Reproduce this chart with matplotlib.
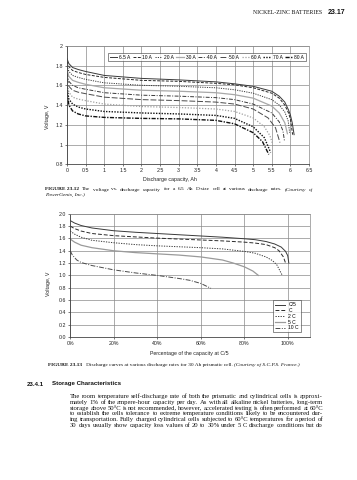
import matplotlib
matplotlib.use("Agg")
import matplotlib.pyplot as plt

W, H = 357, 480

# ---------------- data: figure 23.12 ----------------
top_labels = ["6.5 A", "10 A", "20 A", "30 A", "40 A", "50 A", "60 A", "70 A", "80 A"]
top_x = [
    [0, 0.05, 0.15, 0.3, 0.5, 1.0, 2.0, 3.0, 4.0, 4.5, 5.0, 5.5, 5.7, 5.85, 5.95, 6.0, 6.05, 6.1],
    [0, 0.05, 0.15, 0.3, 0.5, 1.0, 2.0, 3.0, 4.0, 4.5, 5.0, 5.5, 5.7, 5.85, 5.95, 6.0, 6.06],
    [0, 0.05, 0.15, 0.3, 0.5, 1.0, 2.0, 3.0, 4.0, 4.5, 5.0, 5.5, 5.7, 5.85, 5.94, 5.98],
    [0, 0.05, 0.15, 0.3, 0.5, 1.0, 2.0, 3.0, 4.0, 4.5, 5.0, 5.5, 5.7, 5.85, 5.92],
    [0, 0.05, 0.15, 0.3, 0.5, 1.0, 2.0, 3.0, 4.0, 4.5, 5.0, 5.5, 5.7, 5.8, 5.84],
    [0, 0.05, 0.15, 0.3, 0.5, 1.0, 2.0, 3.0, 4.0, 4.5, 5.0, 5.4, 5.6, 5.72],
    [0, 0.05, 0.15, 0.3, 0.5, 1.0, 2.0, 3.0, 4.0, 4.5, 5.0, 5.3, 5.45, 5.52],
    [0, 0.05, 0.15, 0.3, 0.5, 1.0, 2.0, 3.0, 4.0, 4.5, 5.0, 5.3, 5.47],
    [0, 0.05, 0.15, 0.3, 0.5, 1.0, 2.0, 3.0, 4.0, 4.5, 5.0, 5.25, 5.42],
]
top_v = [
    [1.87, 1.82, 1.78, 1.76, 1.74, 1.70, 1.67, 1.655, 1.635, 1.615, 1.59, 1.54, 1.49, 1.43, 1.35, 1.30, 1.22, 1.10],
    [1.84, 1.79, 1.75, 1.73, 1.71, 1.68, 1.65, 1.64, 1.62, 1.605, 1.575, 1.52, 1.47, 1.40, 1.32, 1.26, 1.10],
    [1.80, 1.74, 1.70, 1.68, 1.66, 1.625, 1.60, 1.59, 1.575, 1.555, 1.52, 1.455, 1.40, 1.33, 1.24, 1.12],
    [1.76, 1.69, 1.65, 1.63, 1.61, 1.575, 1.55, 1.54, 1.525, 1.505, 1.47, 1.39, 1.32, 1.22, 1.11],
    [1.72, 1.64, 1.60, 1.575, 1.56, 1.525, 1.50, 1.49, 1.475, 1.455, 1.41, 1.32, 1.23, 1.14, 1.04],
    [1.68, 1.59, 1.55, 1.53, 1.515, 1.48, 1.455, 1.445, 1.43, 1.41, 1.36, 1.27, 1.17, 1.02],
    [1.63, 1.53, 1.48, 1.46, 1.445, 1.41, 1.385, 1.375, 1.36, 1.335, 1.27, 1.18, 1.09, 1.01],
    [1.58, 1.46, 1.41, 1.38, 1.36, 1.335, 1.32, 1.31, 1.295, 1.265, 1.18, 1.07, 0.92],
    [1.53, 1.40, 1.34, 1.31, 1.29, 1.275, 1.265, 1.26, 1.245, 1.21, 1.12, 1.03, 0.90],
]
top_xticks = [0, 0.5, 1, 1.5, 2, 2.5, 3, 3.5, 4, 4.5, 5, 5.5, 6, 6.5]
top_xticklabels = ["0", "0.5", "1", "1.5", "2", "2.5", "3", "3.5", "4", "4.5", "5", "5.5", "6", "6.5"]
top_yticks = [0.8, 1.0, 1.2, 1.4, 1.6, 1.8, 2.0]
top_yticklabels = ["0.8", "1", "1.2", "1.4", "1.6", "1.8", "2"]

# ---------------- data: figure 23.13 ----------------
bot_labels = ["C/5", "C", "2 C", "5 C", "10 C"]
bot_x = [
    [0, 2, 5, 10, 20, 30, 40, 50, 60, 70, 80, 85, 90, 94, 97, 99, 100, 100.5],
    [0, 2, 5, 10, 20, 30, 40, 50, 60, 70, 80, 85, 90, 94, 96, 98, 99],
    [0, 2, 5, 10, 20, 30, 40, 50, 60, 70, 80, 85, 90, 93, 95, 97.5],
    [0, 2, 5, 10, 20, 30, 40, 50, 60, 70, 75, 80, 84, 86.5],
    [0, 1, 3, 5, 10, 20, 30, 40, 50, 55, 60, 64.7],
]
bot_v = [
    [1.89, 1.85, 1.81, 1.77, 1.725, 1.70, 1.68, 1.66, 1.64, 1.62, 1.595, 1.58, 1.55, 1.51, 1.46, 1.39, 1.32, 1.20],
    [1.80, 1.76, 1.72, 1.68, 1.645, 1.625, 1.605, 1.59, 1.575, 1.56, 1.54, 1.525, 1.50, 1.45, 1.40, 1.30, 1.20],
    [1.72, 1.67, 1.62, 1.57, 1.53, 1.50, 1.48, 1.465, 1.45, 1.43, 1.39, 1.36, 1.30, 1.24, 1.17, 1.00],
    [1.59, 1.54, 1.49, 1.45, 1.40, 1.37, 1.35, 1.33, 1.30, 1.25, 1.20, 1.14, 1.07, 1.00],
    [1.40, 1.33, 1.25, 1.21, 1.16, 1.09, 1.04, 1.00, 0.95, 0.92, 0.87, 0.79],
]
bot_xticks = [0, 20, 40, 60, 80, 100]
bot_xticklabels = ["0%", "20%", "40%", "60%", "80%", "100%"]
bot_yticks = [0.0, 0.2, 0.4, 0.6, 0.8, 1.0, 1.2, 1.4, 1.6, 1.8, 2.0]
bot_yticklabels = ["0.0", "0.2", "0.4", "0.6", "0.8", "1.0", "1.2", "1.4", "1.6", "1.8", "2.0"]

# ---------------- page text ----------------
header_title = "NICKEL-ZINC BATTERIES"
header_page = "23.17"
cap1_line1 = [("FIGURE 23.12", "b")] + [(w, "r") for w in
              "The voltage vs. discharge capacity for a 6.5 Ah D-size cell at various discharge rates.".split()] + \
             [("(Courtesy", "i"), ("of", "i")]
cap1_line2 = "PowerGenix, Inc.)"
cap2 = [("FIGURE 23.13", "b"),
        ("   Discharge curves at various discharge rates for 30 Ah prismatic cell. ", "r"),
        ("(Courtesy of S.C.P.S. France.)", "i")]
heading_num = "23.4.1"
heading_txt = "Storage Characteristics"
para_lines = [
    "The room temperature self-discharge rate of both the prismatic and cylindrical cells is approxi-",
    "mately 1% of the ampere-hour capacity per day. As with all alkaline nickel batteries, long-term",
    "storage above 50°C is not recommended, however, accelerated testing is often performed at 60°C",
    "to establish the cells tolerance to extreme temperature conditions likely to be encountered dur-",
    "ing transportation. Fully charged cylindrical cells subjected to 60°C temperatures for a period of",
    "30 days usually show capacity loss values of 20 to 30% under 5 C discharge conditions but do",
]

SANS = "Liberation Sans"
SERIF = "Liberation Serif"

fig = plt.figure(figsize=(W / 100, H / 100), dpi=100)
fig.patch.set_facecolor("white")


def fx(px):
    return px / W


def fy(py):
    return 1 - py / H


def style_axes(ax):
    ax.grid(True, color="#8a8a8a", lw=0.5)
    ax.set_axisbelow(True)
    for s in ["top", "right"]:
        ax.spines[s].set_color("#8a8a8a")
        ax.spines[s].set_linewidth(0.5)
    for s in ["left", "bottom"]:
        ax.spines[s].set_color("#444444")
        ax.spines[s].set_linewidth(0.6)
    ax.tick_params(direction="out", length=1.5, width=0.5, color="#444444",
                   labelsize=3.8, pad=1.5, labelcolor="#222222")
    for lab in ax.get_xticklabels() + ax.get_yticklabels():
        lab.set_family(SANS)


# ---------- top chart ----------
ax1 = fig.add_axes([fx(67), fy(164.3), (309 - 67) / W, (164.3 - 45.8) / H])
top_styles = [
    dict(color="#3a3a3a", ls="-", lw=0.7),
    dict(color="#2a2a2a", ls=(0, (3, 1.5)), lw=0.7),
    dict(color="#3a3a3a", ls=(0, (1.2, 1.2)), lw=0.7),
    dict(color="#a8a8a8", ls="-", lw=0.9),
    dict(color="#3a3a3a", ls=(0, (4, 1.5, 1, 1.5)), lw=0.7),
    dict(color="#4a4a4a", ls=(0, (6, 2)), lw=0.7),
    dict(color="#a0a0a0", ls=(0, (1, 1.3)), lw=0.9),
    dict(color="#111111", ls=(0, (1, 1)), lw=1.0),
    dict(color="#111111", ls=(0, (3, 1, 1, 1)), lw=1.0),
]
for xs, vs, lab, st in zip(top_x, top_v, top_labels, top_styles):
    ax1.plot(xs, vs, label=lab, **st)
ax1.set_xlim(0, 6.5)
ax1.set_ylim(0.8, 2.0)
ax1.set_xticks(top_xticks)
ax1.set_xticklabels(top_xticklabels)
ax1.set_yticks(top_yticks)
ax1.set_yticklabels(top_yticklabels)
style_axes(ax1)
leg1 = ax1.legend(ncol=9, loc="upper right", bbox_to_anchor=(0.9876, 0.94),
                  handlelength=1.6, handletextpad=0.3, columnspacing=0.55,
                  borderpad=0.35, frameon=True, fancybox=False, borderaxespad=0,
                  prop={"family": SANS, "size": 3.5})
leg1.get_frame().set_edgecolor("#333333")
leg1.get_frame().set_linewidth(0.5)
fig.text(fx(47.5), fy(117), "Voltage, V", rotation=90, ha="center", va="center",
         fontsize=3.8, family=SANS, color="#222222")
fig.text(fx(170), fy(179), "Discharge capacity, Ah", ha="center", va="center",
         fontsize=3.8, family=SANS, color="#222222")

# ---------- bottom chart ----------
ax2 = fig.add_axes([fx(70.2), fy(337.0), (309.5 - 70.2) / W, (337.0 - 213.8) / H])
bot_styles = [
    dict(color="#3a3a3a", ls="-", lw=0.7),
    dict(color="#2a2a2a", ls=(0, (4, 2)), lw=0.7),
    dict(color="#3a3a3a", ls=(0, (1.3, 1.3)), lw=0.7),
    dict(color="#9a9a9a", ls="-", lw=0.9),
    dict(color="#4a4a4a", ls=(0, (5, 1.5, 1, 1.5)), lw=0.7),
]
for xs, vs, lab, st in zip(bot_x, bot_v, bot_labels, bot_styles):
    ax2.plot(xs, vs, label=lab, **st)
ax2.set_xlim(0, 110)
ax2.set_ylim(0, 2.0)
ax2.set_xticks(bot_xticks)
ax2.set_xticklabels(bot_xticklabels)
ax2.set_yticks(bot_yticks)
ax2.set_yticklabels(bot_yticklabels)
style_axes(ax2)
leg2 = ax2.legend(loc="lower right", bbox_to_anchor=(0.9645, 0.038), ncol=1,
                  handlelength=2.0, handletextpad=0.6, labelspacing=0.15, borderpad=0.4,
                  frameon=True, fancybox=False, borderaxespad=0,
                  prop={"family": SANS, "size": 3.6})
leg2.get_frame().set_edgecolor("#333333")
leg2.get_frame().set_linewidth(0.5)
fig.text(fx(48.3), fy(284), "Voltage, V", rotation=90, ha="center", va="center",
         fontsize=3.8, family=SANS, color="#222222")
fig.text(fx(189.5), fy(354), "Percentage of the capacity at C/5", ha="center", va="center",
         fontsize=3.8, family=SANS, color="#222222")

# ---------- page text helpers ----------
renderer = fig.canvas.get_renderer()
STY = {"r": dict(), "b": dict(weight="bold"), "i": dict(style="italic")}


def measure(pieces, size, family=SERIF):
    total = 0.0
    for txt, s in pieces:
        t = fig.text(0, 0, txt, fontsize=size, family=family, **STY[s])
        total += t.get_window_extent(renderer).width
        t.remove()
    return total


def fit(pieces, target, family=SERIF):
    return 10.0 * target / measure(pieces, 10.0, family)


def rich_line(x0, y, pieces, size, family=SERIF):
    cur = x0
    for txt, s in pieces:
        t = fig.text(fx(cur), fy(y), txt, fontsize=size, family=family,
                     ha="left", va="center", color="#111111", **STY[s])
        cur += t.get_window_extent(renderer).width
    return cur


def justify(x0, x1, y, words, size, family=SERIF):
    texts = []
    for w, s in words:
        texts.append(fig.text(0, 0, w, fontsize=size, family=family, ha="left",
                              va="center", color="#111111", **STY[s]))
    widths = [t.get_window_extent(renderer).width for t in texts]
    gap = (x1 - x0 - sum(widths)) / max(len(words) - 1, 1)
    cur = x0
    for t, w in zip(texts, widths):
        t.set_position((fx(cur), fy(y)))
        cur += w + gap


# header
fig.text(fx(322), fy(13), header_title, fontsize=4.2, family=SERIF, ha="right",
         va="center", color="#111111")
fig.text(fx(345), fy(13), header_page, fontsize=5.0, family=SANS, weight="bold",
         ha="right", va="center", color="#111111")

# captions: one common size between the two measured extents
cap1_pieces = [(cap1_line1[0][0] + "  ", "b"),
               (" ".join(w for w, s in cap1_line1[1:-2]) + " ", "r"),
               (" ".join(w for w, s in cap1_line1[-2:]), "i")]
size_a = fit(cap2, 285 - 48)
size_b = fit(cap1_pieces, 313 - 45)
cap_size = 0.5 * (size_a + size_b)
justify(45, 313, 189.5, cap1_line1, cap_size)
fig.text(fx(45), fy(195), cap1_line2, fontsize=cap_size, family=SERIF, style="italic",
         ha="left", va="center", color="#111111")
rich_line(48, 365, cap2, cap_size)

# heading
fig.text(fx(27), fy(384), heading_num, fontsize=4.4, family=SANS, weight="bold",
         ha="left", va="center", color="#111111")
fig.text(fx(52), fy(384), heading_txt, fontsize=4.4, family=SANS, weight="bold",
         ha="left", va="center", color="#111111")

# paragraph: a common size near the median fit, then justify each line
fits = sorted(fit([(ln, "r")], 323 - 70) for ln in para_lines)
para_size = min(0.5 * (fits[2] + fits[3]), fits[0] * 1.03)
for i, line in enumerate(para_lines):
    justify(70, 323, 396.5 + 5.8 * i, [(w, "r") for w in line.split()], para_size)

fig.savefig("out.png", dpi=100)
